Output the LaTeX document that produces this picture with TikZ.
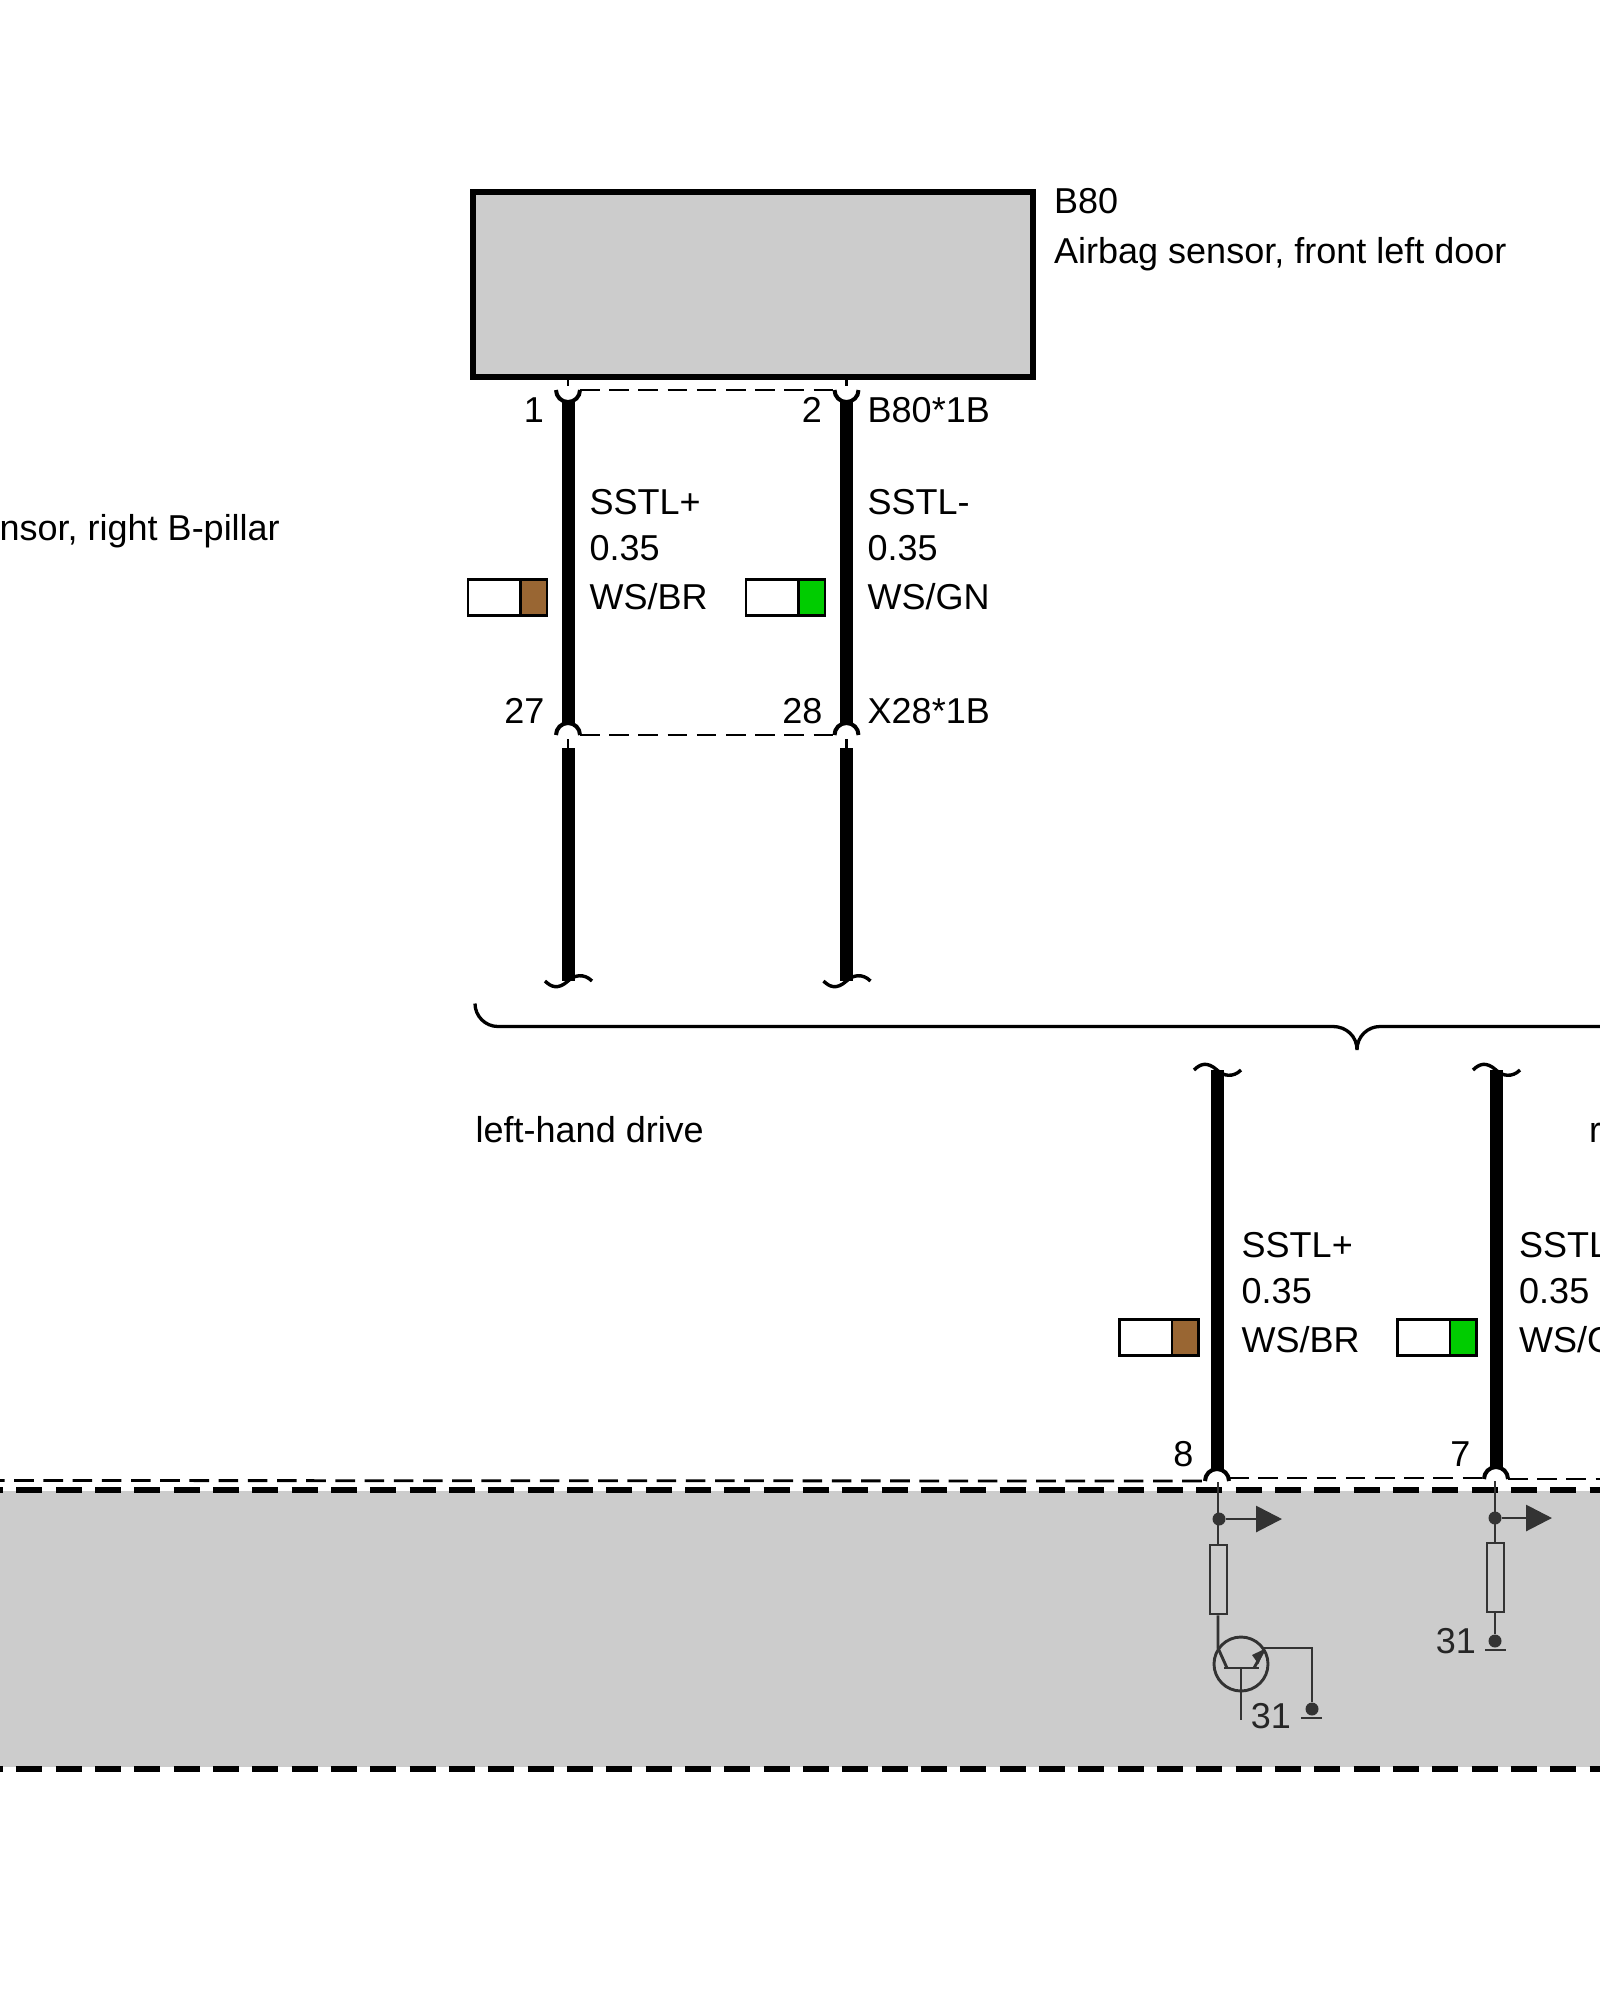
\documentclass[tikz,border=0pt]{standalone}
\usepackage{fontspec}
\setmainfont{Liberation Sans}
\usetikzlibrary{arrows.meta}
\definecolor{wirebrown}{HTML}{996633}
\definecolor{wiregreen}{HTML}{00CC00}
\definecolor{ecugrey}{HTML}{CCCCCC}
\definecolor{cktgrey}{HTML}{333333}
\definecolor{cktink}{HTML}{262626}
\tikzset{
	lbl/.style={inner sep=0pt, anchor=base west, font=\fontsize{36}{42}\selectfont},
	lblr/.style={lbl, anchor=base east},
	cktlbl/.style={lblr, text=cktink},
	wire/.style={line width=13pt},
	pinarc/.style={line width=4pt},
	pinstub/.style={line width=2.4pt},
	tilde/.style={line width=3.4pt},
	link/.style={line width=2.8pt, dash pattern=on 19.6pt off 9.6pt},
	zoneedge/.style={line width=6.4pt, dash pattern=on 26pt off 13.33pt, dash phase=22.9pt},
	bracket/.style={line width=3.3pt},
	ckt/.style={line width=2.9pt, color=cktgrey},
	cktdot/.style={circle, fill=cktgrey, inner sep=0pt, minimum size=13pt},
	swatch/.style={draw, line width=2.9pt, fill=white, minimum height=36.4pt, inner sep=0pt},
	resbox/.style={draw=cktgrey, line width=2.9pt, minimum width=17pt, minimum height=69pt, inner sep=0pt},
}
\def\wirecolor(#1,#2)#3#4{%
	\node[swatch, minimum width=79pt] (#4) at (#1,#2) {};
	\node[swatch, fill=#3, minimum width=26.5pt] (#4col) at ([xshift=26.25pt]#4.center) {};}
\def\wirebreak[#1](#2,#3){\draw[tilde, shift={(#2,#3)}, #1] (-23,0) .. controls (-17,-6) and (-10,-9) .. (0,0) .. controls (6,6) and (16,8) .. (24,0);}

\begin{document}
\begin{tikzpicture}[x=1pt, y=1pt]
	\useasboundingbox (0,0) rectangle (1600,-2000);

	%%%%% control unit %%%%%
	\fill[ecugrey] (0,-1491) rectangle (1600,-1767);
	\draw[zoneedge] (0,-1490) -- (1600,-1490);
	\draw[zoneedge] (0,-1769) -- (1600,-1769);

	%%%%% sensor %%%%%
	\node[draw, line width=6pt, fill=ecugrey, minimum width=560pt, minimum height=185pt, inner sep=0pt] (sensor) at (753,-284.5) {};
	\node[lbl] (sensorcode) at (1054,-213) {B80};
	\node[lbl] (sensorname) at (1054,-263) {Airbag sensor, front left door};
	\node[lblr] (othersensor) at (280,-540) {nsor, right B-pillar};

	%%%%% connector B80*1B %%%%%
	\coordinate (pinAa) at (568,-390);
	\coordinate (pinAb) at (846.5,-390);
	\draw[pinarc] ([xshift=-12pt]pinAa) arc[start angle=180, end angle=360, radius=12];
	\draw[pinarc] ([xshift=-12pt]pinAb) arc[start angle=180, end angle=360, radius=12];
	\draw[pinstub] (pinAa |- sensor.south) -- ([yshift=4pt]pinAa);
	\draw[pinstub] (pinAb |- sensor.south) -- ([yshift=4pt]pinAb);
	\draw[link] ([xshift=12pt]pinAa) -- ([xshift=-12pt]pinAb);
	\node[lblr] (pinAalbl) at (544,-422) {1};
	\node[lblr] (pinAblbl) at (822,-422) {2};
	\node[lbl] (connA) at (867.5,-422) {B80*1B};

	%%%%% connector X28*1B %%%%%
	\coordinate (pinBa) at (568,-735);
	\coordinate (pinBb) at (846.5,-735);
	\draw[pinarc] ([xshift=-12pt]pinBa) arc[start angle=180, end angle=0, radius=12];
	\draw[pinarc] ([xshift=-12pt]pinBb) arc[start angle=180, end angle=0, radius=12];
	\draw[link] ([xshift=12pt]pinBa) -- ([xshift=-12pt]pinBb);
	\node[lblr] (pinBalbl) at (544.5,-723) {27};
	\node[lblr] (pinBblbl) at (822.5,-723) {28};
	\node[lbl] (connB) at (867.5,-723) {X28*1B};

	%%%%% wires, upper part %%%%%
	\draw[wire] ([yshift=-11pt]pinAa) -- ([yshift=11pt]pinBa);
	\draw[wire] ([yshift=-11pt]pinAb) -- ([yshift=11pt]pinBb);
	\draw[pinstub] ([yshift=-4pt]pinBa) -- ([yshift=-14pt]pinBa);
	\draw[pinstub] ([yshift=-4pt]pinBb) -- ([yshift=-14pt]pinBb);
	\coordinate (endAa) at (568,-981);
	\coordinate (endAb) at (846.5,-981);
	\draw[wire] ([yshift=-13pt]pinBa) -- (endAa);
	\draw[wire] ([yshift=-13pt]pinBb) -- (endAb);
	\wirebreak[](568,-981)
	\wirebreak[](846.5,-981)

	\node[lbl] (sigAa) at (589.5,-514) {SSTL+};
	\node[lbl] (sizeAa) at (589.5,-560) {0.35};
	\node[lbl] (colAa) at (589.5,-609) {WS/BR};
	\node[lbl] (sigAb) at (867.5,-514) {SSTL-};
	\node[lbl] (sizeAb) at (867.5,-560) {0.35};
	\node[lbl] (colAb) at (867.5,-609) {WS/GN};
	\wirecolor(507.5,-597.5){wirebrown}{swatchAa}
	\wirecolor(785.5,-597.5){wiregreen}{swatchAb}

	%%%%% variant bracket %%%%%
	\draw[bracket] (475,-1003.5) arc[start angle=180, end angle=270, radius=23] -- (1333,-1026.5)
		.. controls (1346,-1026.5) and (1357,-1036) .. (1357,-1050)
		.. controls (1357,-1036) and (1368,-1026.5) .. (1380,-1026.5) -- (1600,-1026.5);
	\node[lbl] (lhd) at (475.5,-1142) {left-hand drive};
	\node[lbl] (rhd) at (1589,-1142) {r};

	%%%%% wires, lower part %%%%%
	\coordinate (pinCa) at (1217,-1481);
	\coordinate (pinCb) at (1496,-1479);
	\coordinate (endCa) at (1217,-1070);
	\coordinate (endCb) at (1496,-1070);
	\wirebreak[yscale=-1](1217,-1070)
	\wirebreak[yscale=-1](1496,-1070)
	\draw[wire] (endCa) -- ([yshift=11pt]pinCa);
	\draw[wire] (endCb) -- ([yshift=11pt]pinCb);
	\draw[pinarc] ([xshift=-12pt]pinCa) arc[start angle=180, end angle=0, radius=12];
	\draw[pinarc] ([xshift=-12pt]pinCb) arc[start angle=180, end angle=0, radius=12];
	\draw[link, dash phase=15pt] (0,-1480.5) -- ([xshift=-12pt]pinCa);
	\draw[link] (1229,-1478) -- ([xshift=-12pt,yshift=1pt]pinCb);
	\draw[link] ([xshift=12pt]pinCb) -- (1600,-1479);
	\node[lblr] (pinCalbl) at (1193.5,-1466) {8};
	\node[lblr] (pinCblbl) at (1470.5,-1466) {7};

	\node[lbl] (sigCa) at (1241.5,-1257) {SSTL+};
	\node[lbl] (sizeCa) at (1241.5,-1303) {0.35};
	\node[lbl] (colCa) at (1241.5,-1352) {WS/BR};
	\node[lbl] (sigCb) at (1519,-1257) {SSTL};
	\node[lbl] (sizeCb) at (1519,-1303) {0.35};
	\node[lbl] (colCb) at (1519,-1352) {WS/G};
	\wirecolor(1159,-1337.5){wirebrown}{swatchCa}
	\wirecolor(1437,-1337.5){wiregreen}{swatchCb}

	%%%%% circuit at pin 8 %%%%%
	\node[cktdot] (dotCa) at (1219,-1519) {};
	\coordinate (tipCa) at (1282,-1519);
	\draw[ckt, -{Triangle[length=26pt, width=26pt]}] (dotCa) -- (tipCa);
	\node[resbox] (resCa) at (1218.5,-1579.5) {};
	\draw[ckt] (1218,-1482) -- (resCa.north -| 1218,0);
	\coordinate (collCa) at (1218,-1648);
	\draw[ckt] (resCa.south -| 1218,0) -- (collCa) -- (1227,-1668);
	\node[draw=cktgrey, circle, line width=2.9pt, minimum size=54pt, inner sep=0pt] (trans) at (1241,-1664) {};
	\draw[ckt] (1224,-1668) -- (1259,-1668);
	\draw[ckt] (1241,-1668) -- (1241,-1720);
	\draw[ckt] (1254,-1668) -- (1264,-1650);
	\fill[cktgrey] (1264.5,-1649) -- (1252,-1655) -- (1258.5,-1664) -- cycle;
	\node[cktdot] (gndCa) at (1312,-1709) {};
	\draw[ckt] (1264,-1648) -- (1312,-1648) -- (gndCa);
	\draw[ckt] (1301,-1718) -- (1322,-1718);
	\node[cktlbl] (gndlblCa) at (1291,-1728) {31};

	%%%%% circuit at pin 7 %%%%%
	\node[cktdot] (dotCb) at (1495,-1518) {};
	\coordinate (tipCb) at (1552,-1518);
	\draw[ckt, -{Triangle[length=26pt, width=26pt]}] (dotCb) -- (tipCb);
	\node[resbox] (resCb) at (1495.5,-1577.5) {};
	\node[cktdot] (gndCb) at (1495,-1641) {};
	\draw[ckt] (1495,-1481) -- (resCb.north -| 1495,0);
	\draw[ckt] (resCb.south -| 1495,0) -- (gndCb);
	\draw[ckt] (1485,-1650) -- (1506,-1650);
	\node[cktlbl] (gndlblCb) at (1476,-1653) {31};
\end{tikzpicture}
\end{document}
